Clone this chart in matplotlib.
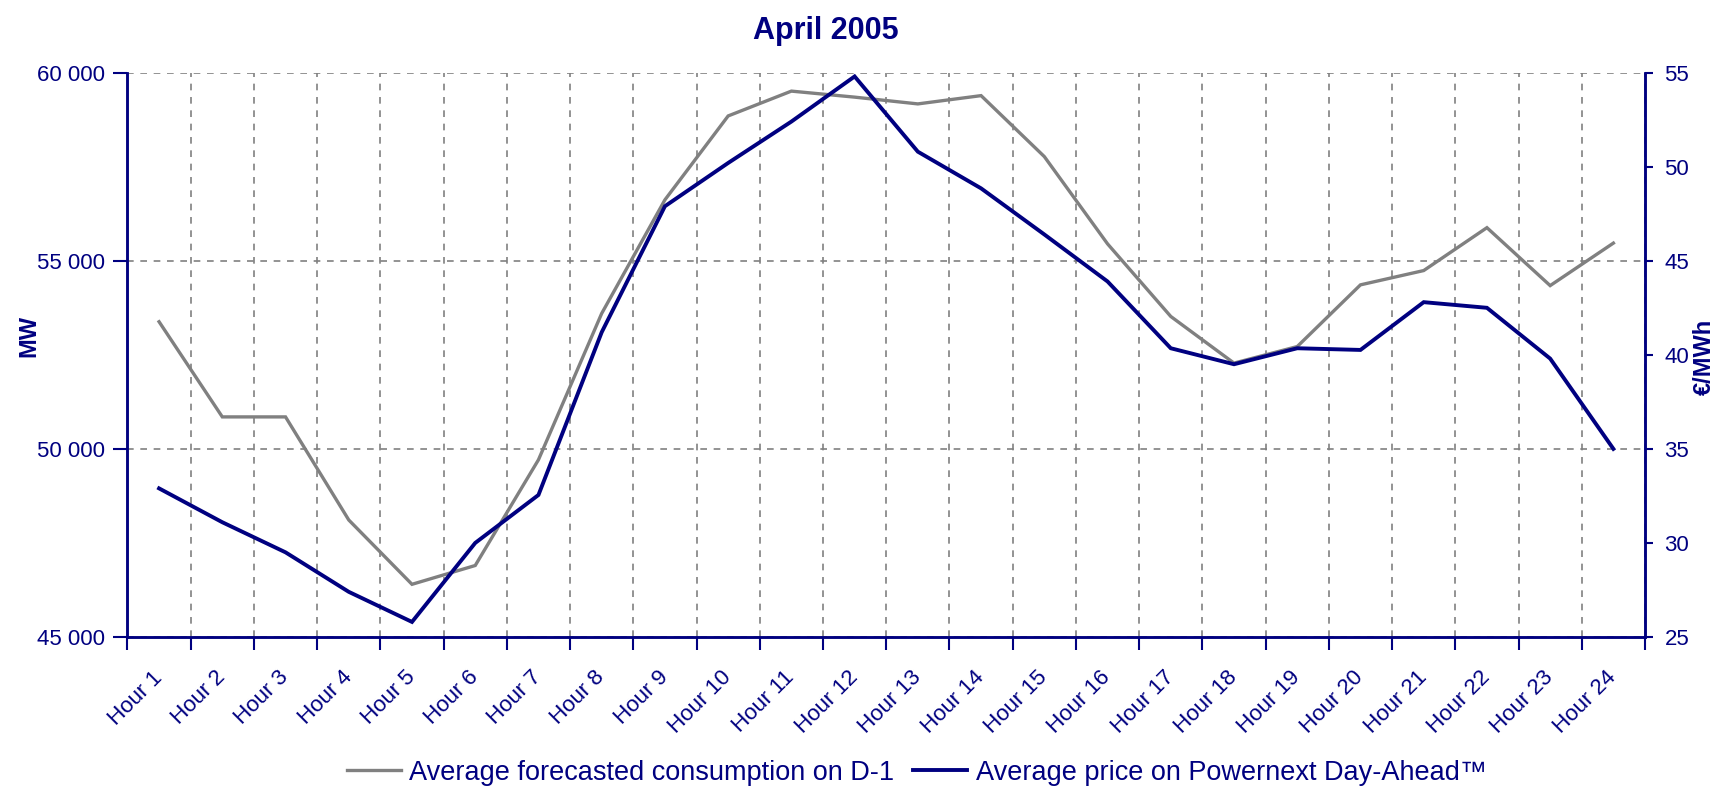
import matplotlib.pyplot as plt
import matplotlib.transforms as mtransforms
import numpy as np
from matplotlib.ticker import FuncFormatter, FixedLocator

# Hourly values
hours = ['Hour %d' % h for h in range(1, 25)]
consumption_mw = [53380, 50850, 50850, 48110, 46400, 46900, 49710, 53600,
                  56620, 58850, 59510, 59350, 59170, 59390, 57770, 55450,
                  53520, 52280, 52720, 54360, 54740, 55880, 54340, 55470]
price_eur = [32.9, 31.1, 29.5, 27.4, 25.8, 30.0, 32.55, 41.2,
             47.9, 50.2, 52.4, 54.8, 50.8, 48.85, 46.4, 43.9,
             40.35, 39.5, 40.35, 40.26, 42.8, 42.5, 39.8, 35.0]

navy = '#000080'
grey = '#808080'
plt.rcParams['font.family'] = ['Liberation Sans', 'DejaVu Sans']

fig = plt.figure(figsize=(17.2, 7.9), dpi=100)
ax = fig.add_axes([0.0741, 0.1937, 0.8823, 0.7143])
ax2 = ax.twinx()

x = np.arange(len(hours))
l1, = ax.plot(x, consumption_mw, color=grey, lw=2.4, solid_joinstyle='miter')
l2, = ax2.plot(x, price_eur, color=navy, lw=2.8, solid_joinstyle='miter')

ax.set_xlim(-0.5, len(hours) - 0.5)
ax.set_ylim(45000, 60000)
ax.set_yticks([45000, 50000, 55000, 60000])
ax.yaxis.set_major_formatter(FuncFormatter(lambda v, p: f"{v:,.0f}".replace(",", " ")))
ax2.set_ylim(25, 55)
ax2.set_yticks(np.arange(25, 56, 5))

# category boundaries carry the ticks and grid, labels sit in the middle
ax.xaxis.set_major_locator(FixedLocator(np.arange(-0.5, len(hours), 1)))
ax.set_xticklabels([])
ax.set_xticks(x, hours, minor=True)
shift = mtransforms.ScaledTranslation(-0.11, 0, fig.dpi_scale_trans)
for lab in ax.get_xticklabels(minor=True):
    lab.set_rotation(45)
    lab.set_ha('right')
    lab.set_va('center')
    lab.set_rotation_mode('anchor')
    lab.set_transform(lab.get_transform() + shift)
ax.tick_params(axis='x', which='minor', length=0, pad=27, labelsize=16, labelcolor=navy)
ax.tick_params(axis='x', which='major', length=9, width=1.5, color=navy, direction='out')

ax.grid(True, which='major', color=grey, linestyle=(0, (4, 4)), lw=1.2)
ax.set_axisbelow(True)

ax.tick_params(axis='y', length=10, width=1.5, color=navy, labelcolor=navy, labelsize=16, pad=6)
ax2.tick_params(axis='y', length=6, width=1.5, color=navy, labelcolor=navy, labelsize=16, pad=8)

for a in (ax, ax2):
    a.spines['top'].set_visible(False)
    for s in ('left', 'right', 'bottom'):
        a.spines[s].set_color(navy)
        a.spines[s].set_linewidth(1.8)

fig.text(0.0167, 0.575, 'MW', rotation=90, color=navy, fontsize=17, fontweight='bold',
         ha='center', va='center')
fig.text(0.9907, 0.548, '€/MWh', rotation=90, color=navy, fontsize=17, fontweight='bold',
         ha='center', va='center')
fig.text(0.48, 0.961, 'April 2005', color=navy, fontsize=22, fontweight='bold',
         ha='center', va='center')

fig.legend([l1, l2], ['Average forecasted consumption on D-1',
                      'Average price on Powernext Day-Ahead™'],
           loc='center', bbox_to_anchor=(0.533, 0.022), ncol=2, frameon=False,
           fontsize=19.5, labelcolor=navy, handlelength=2.0, handletextpad=0.3,
           columnspacing=0.7)

fig.savefig('out.png', dpi=100, facecolor='white')
